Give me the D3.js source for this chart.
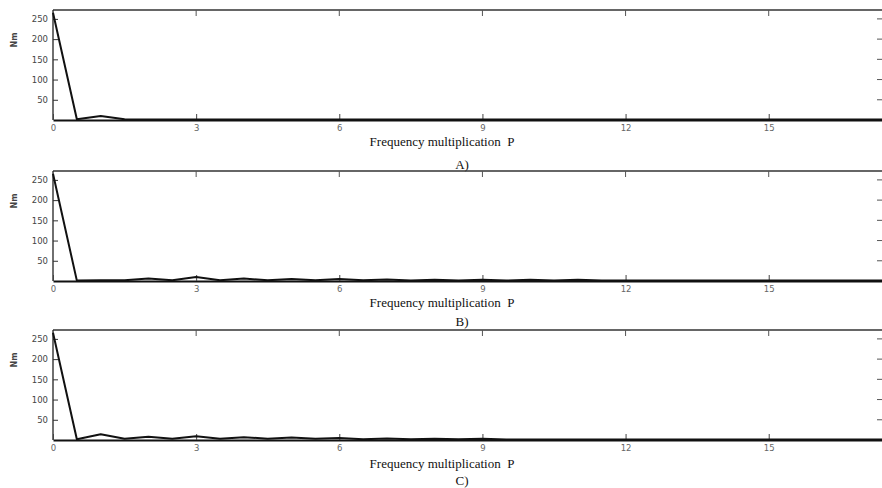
<!DOCTYPE html>
<html>
<head>
<meta charset="utf-8">
<script src="https://cdn.jsdelivr.net/npm/d3@7"></script>
<style>
  body { margin: 0; background: #fff; }
  svg { display: block; }
</style>
</head>
<body>
<div id="canvas"></div>
<script>
"use strict"

/* data: frequency multiplication P sampled every 0.5 */
let freqP = d3.range(0, 18, 0.5);

let torqueA = [265, 2, 10, 2, 1, 1, 1, 1, 1, 1, 1, 1, 1, 1, 1, 1, 1, 1,
               1, 1, 1, 1, 1, 1, 1, 1, 1, 1, 1, 1, 1, 1, 1, 1, 1, 1];
let torqueB = [265, 1, 2, 2, 6, 2, 10, 2, 6, 2, 5, 2, 5, 2, 4, 1, 3, 1,
               3, 1, 3, 1, 3, 1, 1, 1, 1, 1, 1, 1, 1, 1, 1, 1, 1, 1];
let torqueC = [265, 2, 14, 3, 8, 3, 9, 3, 7, 3, 6, 3, 5, 2, 4, 2, 3, 2,
               3, 1, 1, 1, 1, 1, 1, 1, 1, 1, 1, 1, 1, 1, 1, 1, 1, 1];

let xTicks = [0, 3, 6, 9, 12, 15];
let yTicks = [50, 100, 150, 200, 250];
let panelNames = ["A)", "B)", "C)"];
let xTitle = "Frequency multiplication  P";
let yTitle = "Nm";

let drawing = d3.select("#canvas")
    .append("svg")
    .attr("width", 882)
    .attr("height", 488);

let x = d3.scaleLinear().domain([0, 17.5]).range([53, 888]);

/* one panel per series */
let panels = [
    {data: torqueA, top: 10, title: 142, name: 165},
    {data: torqueB, top: 171, title: 303, name: 322},
    {data: torqueC, top: 330, title: 464, name: 481}
];

panels.forEach(function (p, i) {
    let y = d3.scaleLinear().domain([0, 272]).range([p.top + 110, p.top]);
    let g = drawing.append("g");

    // frame
    g.append("line")
        .attr("x1", 53).attr("x2", 882)
        .attr("y1", p.top).attr("y2", p.top)
        .attr("stroke", "#333").attr("stroke-width", 1.5);
    g.append("line")
        .attr("x1", 53).attr("x2", 53)
        .attr("y1", p.top).attr("y2", p.top + 110)
        .attr("stroke", "#222").attr("stroke-width", 1.3);

    // bottom axis with inward ticks
    let bottom = g.append("g")
        .attr("transform", "translate(0," + (p.top + 110) + ")")
        .call(d3.axisBottom(x).tickValues(xTicks).tickSizeInner(-6).tickSizeOuter(0).tickPadding(5));
    bottom.select(".domain").attr("stroke", "#111").attr("stroke-width", 1.8);
    bottom.selectAll(".tick line").attr("stroke", "#444");
    bottom.selectAll("text")
        .attr("font-family", "DejaVu Sans, sans-serif")
        .attr("font-size", 8.5)
        .attr("fill", "#666");

    // top ticks
    g.selectAll(".ttick").data(xTicks.slice(1)).enter().append("line")
        .attr("x1", d => x(d)).attr("x2", d => x(d))
        .attr("y1", p.top).attr("y2", p.top + 6)
        .attr("stroke", "#555");

    // left axis
    let left = g.append("g")
        .attr("transform", "translate(53,0)")
        .call(d3.axisLeft(y).tickValues(yTicks).tickSizeInner(-5).tickSizeOuter(0).tickPadding(5));
    left.select(".domain").remove();
    left.selectAll(".tick line").attr("stroke", "#333");
    left.selectAll("text")
        .attr("font-family", "DejaVu Sans, sans-serif")
        .attr("font-size", 8.5)
        .attr("fill", "#444");

    // right ticks
    g.selectAll(".rtick").data(yTicks).enter().append("line")
        .attr("x1", 877).attr("x2", 882)
        .attr("y1", d => y(d)).attr("y2", d => y(d))
        .attr("stroke", "#555");

    // y title
    g.append("text")
        .attr("transform", "translate(17," + (p.top + 30) + ") rotate(-90)")
        .attr("text-anchor", "middle")
        .attr("font-family", "DejaVu Sans, sans-serif")
        .attr("font-size", 8)
        .attr("font-weight", "bold")
        .attr("fill", "#444")
        .text(yTitle);

    // data line
    let line = d3.line()
        .x((d, j) => x(freqP[j]))
        .y(d => y(d));
    g.append("path")
        .datum(p.data)
        .attr("d", line)
        .attr("fill", "none")
        .attr("stroke", "#111")
        .attr("stroke-width", 2)
        .attr("stroke-linejoin", "round");

    // titles
    g.append("text")
        .attr("x", 442).attr("y", p.title + 4)
        .attr("text-anchor", "middle")
        .attr("font-family", "Liberation Serif, serif")
        .attr("font-size", 13)
        .attr("fill", "#111")
        .style("white-space", "pre")
        .text(xTitle);
    g.append("text")
        .attr("x", 462).attr("y", p.name + 4)
        .attr("text-anchor", "middle")
        .attr("font-family", "Liberation Serif, serif")
        .attr("font-size", 13)
        .attr("fill", "#111")
        .text(panelNames[i]);
});
</script>
</body>
</html>
